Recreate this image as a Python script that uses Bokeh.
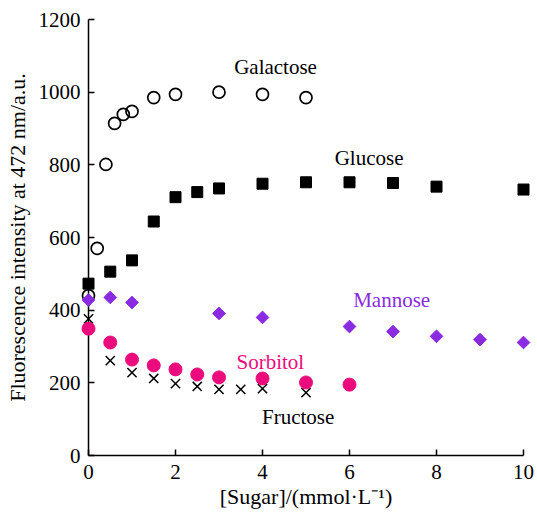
import math
from bokeh.plotting import figure
from bokeh.models import Range1d, FixedTicker
from bokeh.core.properties import value
from bokeh.embed import file_html
from bokeh.resources import INLINE

# ---- data ----
gal_x = [0, 0.2, 0.4, 0.6, 0.8, 1.0, 1.5, 2, 3, 4, 5]
gal_y = [440, 570, 801, 914, 939, 947, 985, 994, 1000, 994, 985]

glu_x = [0, 0.5, 1, 1.5, 2, 2.5, 3, 4, 5, 6, 7, 8, 10]
glu_y = [473, 506, 537, 644, 711, 725, 735, 748, 752, 752, 750, 740, 732]

man_x = [0, 0.5, 1, 3, 4, 6, 7, 8, 9, 10]
man_y = [428, 435, 421, 391, 380, 355, 341, 328, 319, 311]

fru_x = [0, 0.5, 1, 1.5, 2, 2.5, 3, 3.5, 4, 5]
fru_y = [376, 261, 228, 212, 198, 190, 182, 182, 184, 173]

sor_x = [0, 0.5, 1, 1.5, 2, 2.5, 3, 4, 5, 6]
sor_y = [349, 311, 264, 248, 237, 223, 215, 212, 201, 195]

label_text = ["Galactose", "Glucose", "Mannose", "Sorbitol", "Fructose"]
label_x = [4.3, 6.45, 6.97, 4.18, 4.82]
label_y = [1068, 820, 427, 256, 107]
label_color = ["black", "black", "#8A2BE2", "#EC0B7D", "black"]

x_ticks = [0, 2, 4, 6, 8, 10]
y_ticks = [0, 200, 400, 600, 800, 1000, 1200]

FONT = "Liberation Serif"
FS = "21px"

p = figure(width=537, height=514, output_backend="svg", toolbar_location=None,
           x_range=Range1d(0, 10), y_range=Range1d(0, 1200),
           min_border_left=88, min_border_right=14, min_border_top=19,
           min_border_bottom=59)
p.outline_line_color = None
p.xgrid.visible = False
p.ygrid.visible = False
p.background_fill_color = "white"
p.border_fill_color = "white"

for ax in (p.xaxis[0], p.yaxis[0]):
    ax.major_tick_in = 6
    ax.major_tick_out = 0
    ax.minor_tick_line_color = None
    ax.axis_line_width = 1.5
    ax.major_tick_line_width = 1.5
    ax.axis_line_color = "black"
    ax.major_tick_line_color = "black"
    ax.major_label_text_font = FONT
    ax.major_label_text_font_size = FS
    ax.major_label_text_color = "black"
    ax.axis_label_text_font = FONT
    ax.axis_label_text_font_size = "22px"
    ax.axis_label_text_font_style = "normal"
    ax.axis_label_text_color = "black"

p.xaxis[0].ticker = FixedTicker(ticks=x_ticks)
p.yaxis[0].ticker = FixedTicker(ticks=y_ticks)
p.xaxis[0].axis_label = "[Sugar]/(mmol\u00b7L\u207b\u00b9)"
p.yaxis[0].axis_label = "Fluorescence intensity at 472 nm/a.u."
p.xaxis[0].major_label_standoff = 9
p.xaxis[0].axis_label_standoff = 2
p.yaxis[0].major_label_standoff = 8
p.yaxis[0].axis_label_standoff = 6

p.scatter(gal_x, gal_y, marker="circle", size=12, fill_color=None,
          line_color="black", line_width=1.7, level="overlay")
p.scatter(glu_x, glu_y, marker="square", size=11, fill_color="black",
          line_color="black", level="overlay")
p.scatter(man_x, man_y, marker="square", size=9, angle=math.pi / 4,
          fill_color="#8A2BE2", line_color="#8A2BE2", level="overlay")
p.scatter(fru_x, fru_y, marker="x", size=13, line_color="black",
          line_width=1.5, level="overlay")
p.scatter(sor_x, sor_y, marker="circle", size=13, fill_color="#EC0B7D",
          line_color="#EC0B7D", level="overlay")

p.text(x=label_x, y=label_y, text=label_text, text_color=label_color,
       text_font=value(FONT), text_font_size=FS, text_align="center",
       text_baseline="middle")

open("out.html", "w").write(file_html(p, INLINE))
